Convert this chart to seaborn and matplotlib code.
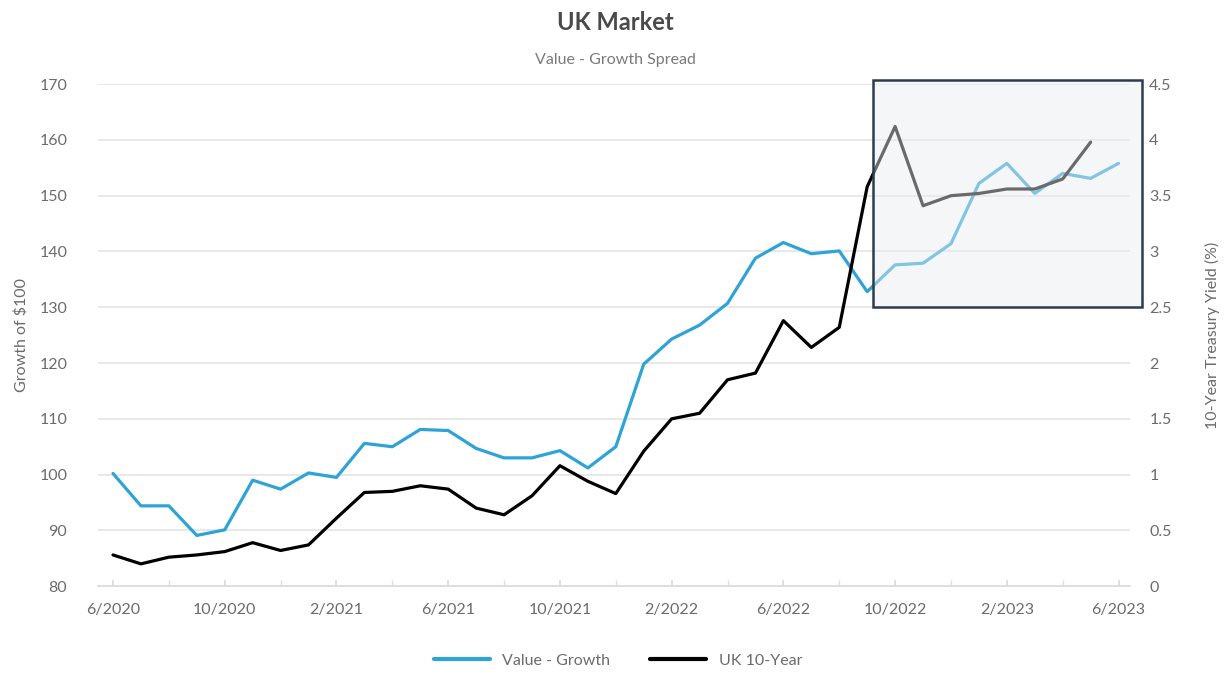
import matplotlib
matplotlib.use("Agg")
import matplotlib.pyplot as plt
import matplotlib.transforms as mtransforms
from matplotlib.patches import Rectangle
from matplotlib.lines import Line2D
import seaborn as sns
import pandas as pd
import numpy as np

months = pd.date_range("2020-06-01", "2023-06-01", freq="MS")

value_growth = [100.2, 94.4, 94.4, 89.1, 90.1, 99.0, 97.4, 100.3, 99.5, 105.6,
                105.0, 108.1, 107.9, 104.7, 103.0, 103.0, 104.3, 101.2, 105.0, 119.8,
                124.3, 126.8, 130.7, 138.8, 141.6, 139.6, 140.1, 132.8, 137.6, 137.9,
                141.4, 152.2, 155.8, 150.4, 154.0, 153.1, 155.8]

uk_10yr = [0.28, 0.20, 0.26, 0.28, 0.31, 0.39, 0.32, 0.37, 0.61, 0.84,
           0.85, 0.90, 0.87, 0.70, 0.64, 0.81, 1.08, 0.94, 0.83, 1.21,
           1.50, 1.55, 1.85, 1.91, 2.38, 2.14, 2.32, 3.58, 4.12, 3.41,
           3.50, 3.52, 3.56, 3.56, 3.65, 3.98, np.nan]

left_ticks = list(range(80, 171, 10))
right_ticks = [0, 0.5, 1, 1.5, 2, 2.5, 3, 3.5, 4, 4.5]

df = pd.DataFrame({"idx": np.arange(len(months)), "Value - Growth": value_growth,
                   "UK 10-Year": uk_10yr})

sns.set_theme(style="white")
plt.rcParams["font.family"] = ["Lato", "DejaVu Sans"]

blue = "#2ea3d6"
txt = "#6b6b6b"

fig, ax = plt.subplots(figsize=(12.24, 6.73), dpi=100)
fig.subplots_adjust(left=0.08, right=0.923, top=0.875, bottom=0.129)

sns.lineplot(data=df, x="idx", y="Value - Growth", ax=ax, color=blue, linewidth=2.3)
ax2 = ax.twinx()
sns.lineplot(data=df, x="idx", y="UK 10-Year", ax=ax2, color="black", linewidth=2.3)

ax.set_xlim(-0.54, 36.4)
ax.set_ylim(80, 170)
ax2.set_ylim(0, 4.5)
ax.set_yticks(left_ticks)
ax2.set_yticks(right_ticks)
ax2.set_yticklabels([f"{t:g}" for t in right_ticks])

xt = list(range(0, len(months), 4))
ax.set_xticks(xt)
ax.set_xticklabels([f"{months[i].month}/{months[i].year}" for i in xt])
ax.set_xticks(list(range(2, len(months), 4)), minor=True)
shift = mtransforms.ScaledTranslation(-0.1, 0, fig.dpi_scale_trans)
for lab in ax.get_xticklabels():
    lab.set_transform(lab.get_transform() + shift)

ax.yaxis.grid(True, color="#e6e6e6", linewidth=1.3)
ax.set_axisbelow(True)
for a in (ax, ax2):
    for s in a.spines.values():
        s.set_visible(False)
ax.spines["bottom"].set_visible(True)
ax.spines["bottom"].set_color("#dcdcdc")
ax.spines["bottom"].set_linewidth(1.3)

ax.tick_params(axis="x", which="both", bottom=True, length=4, color="#dcdcdc",
               direction="in", pad=12, labelsize=11.5, labelcolor=txt)
ax.tick_params(axis="y", length=0, pad=22, labelsize=11.5, labelcolor=txt)
ax2.tick_params(axis="y", length=0, pad=14, labelsize=11.5, labelcolor=txt)

ax.set_xlabel("")
ax.set_ylabel("Growth of \\$100", color=txt, fontsize=11.5, labelpad=8)
ax2.set_ylabel("10-Year Treasury Yield (%)", color=txt, fontsize=11.5, labelpad=24)

# highlighted box over the recent period
box = Rectangle((27.2, 130), 9.65, 40.7, transform=ax.transData, clip_on=False,
                facecolor="#e9edf1", alpha=0.45, edgecolor="none", zorder=5)
ax2.add_patch(box)
edge = Rectangle((27.2, 130), 9.65, 40.7, transform=ax.transData, clip_on=False,
                 facecolor="none", edgecolor="#2d3b4f", linewidth=1.8, zorder=6)
ax2.add_patch(edge)

fig.text(0.503, 0.967, "UK Market", ha="center", va="center", fontsize=17,
         fontweight="bold", color="#4a4a4a")
fig.text(0.503, 0.911, "Value - Growth Spread", ha="center", va="center",
         fontsize=11.5, color="#7a7a7a")

handles = [Line2D([], [], color=blue, linewidth=3),
           Line2D([], [], color="black", linewidth=3)]
fig.legend(handles, ["Value - Growth", "UK 10-Year"], loc="center",
           bbox_to_anchor=(0.505, 0.018), ncol=2, frameon=False, fontsize=11.5,
           labelcolor=txt, handlelength=3.5, columnspacing=2.5)

fig.savefig("out.png", dpi=100)
